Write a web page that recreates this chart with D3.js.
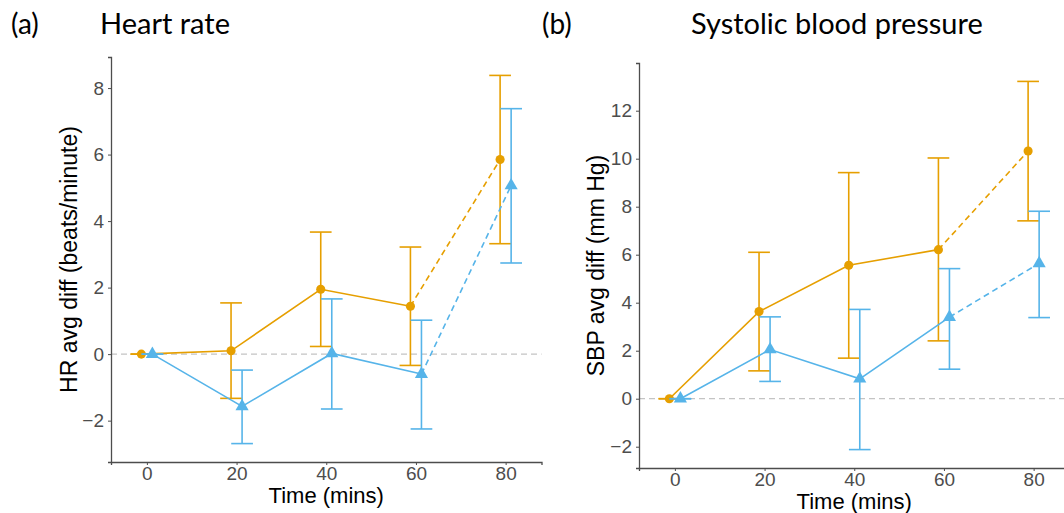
<!DOCTYPE html>
<html>
<head>
<meta charset="utf-8">
<script src="https://cdn.jsdelivr.net/npm/d3@7"></script>
<style>
  body { margin: 0; background: #fff; }
</style>
</head>
<body>
<div id="chart"></div>
<script>
// data
var times = [0, 20, 40, 60, 80];
var xTicks = [0, 20, 40, 60, 80];

// heart rate
var hrOrange   = [0, 0.10, 1.95, 1.44, 5.85];
var hrOrangeLo = [0, -1.33, 0.23, -0.34, 3.32];
var hrOrangeHi = [0, 1.54, 3.67, 3.22, 8.38];
var hrBlue     = [0, -1.57, 0.02, -0.60, 5.07];
var hrBlueLo   = [0, -2.69, -1.65, -2.25, 2.74];
var hrBlueHi   = [0, -0.48, 1.66, 1.02, 7.38];
var hrTicks = [-2, 0, 2, 4, 6, 8];

// systolic blood pressure
var sbpOrange   = [0, 3.63, 5.56, 6.21, 10.32];
var sbpOrangeLo = [0, 1.16, 1.69, 2.41, 7.41];
var sbpOrangeHi = [0, 6.10, 9.42, 10.03, 13.22];
var sbpBlue     = [0, 2.05, 0.83, 3.40, 5.64];
var sbpBlueLo   = [0, 0.72, -2.12, 1.23, 3.38];
var sbpBlueHi   = [0, 3.41, 3.72, 5.42, 7.81];
var sbpTicks = [-2, 0, 2, 4, 6, 8, 10, 12];

var orange = '#E69F00';
var blue = '#56B4E9';
var dodge = 1.23;   // minutes each group is shifted
var capHalf = 2.42; // half error bar width, minutes
var sansFont = '"Liberation Sans", Arial, sans-serif';

var svg = d3.select('#chart')
    .append('svg')
    .attr('width', 1064)
    .attr('height', 513);

function series(vals, lo, hi) {
    return times.map((t, i) => ({t: t, v: vals[i], lo: lo[i], hi: hi[i]}));
}

function drawPanel(opt) {
    var g = svg.append('g');

    var all = opt.groups.flatMap(s => s.data.flatMap(d => [d.lo, d.hi]));
    var ext = d3.extent(all);
    var pad = (ext[1] - ext[0]) * 0.05;

    var xScale = d3.scaleLinear()
        .domain([-8, 88])
        .range([opt.left, opt.left + 430.5]);
    var yScale = d3.scaleLinear()
        .domain([ext[0] - pad, ext[1] + pad])
        .range([opt.bottom, opt.top]);

    // zero reference line
    g.append('line')
        .attr('x1', xScale.range()[0]).attr('x2', xScale.range()[1])
        .attr('y1', yScale(0)).attr('y2', yScale(0))
        .attr('stroke', '#c4c4c4').attr('stroke-width', 1.2)
        .attr('stroke-dasharray', '6,4');

    opt.groups.forEach(function(s) {
        var xs = d => xScale(d.t + s.shift);
        var line = d3.line().x(xs).y(d => yScale(d.v));

        g.append('path').datum(s.data.slice(0, 4))
            .attr('d', line).attr('fill', 'none')
            .attr('stroke', s.color).attr('stroke-width', 1.6);
        g.append('path').datum(s.data.slice(3))
            .attr('d', line).attr('fill', 'none')
            .attr('stroke', s.color).attr('stroke-width', 1.6)
            .attr('stroke-dasharray', '6,4');

        var eb = g.append('g').attr('stroke', s.color).attr('stroke-width', 1.6);
        eb.selectAll('.v').data(s.data).enter().append('line')
            .attr('x1', xs).attr('x2', xs)
            .attr('y1', d => yScale(d.lo)).attr('y2', d => yScale(d.hi));
        eb.selectAll('.hi').data(s.data).enter().append('line')
            .attr('x1', d => xScale(d.t + s.shift - capHalf))
            .attr('x2', d => xScale(d.t + s.shift + capHalf))
            .attr('y1', d => yScale(d.hi)).attr('y2', d => yScale(d.hi));
        eb.selectAll('.lo').data(s.data).enter().append('line')
            .attr('x1', d => xScale(d.t + s.shift - capHalf))
            .attr('x2', d => xScale(d.t + s.shift + capHalf))
            .attr('y1', d => yScale(d.lo)).attr('y2', d => yScale(d.lo));

        g.append('g').selectAll('path').data(s.data).enter().append('path')
            .attr('d', d3.symbol().type(s.shape).size(s.size))
            .attr('transform', d => `translate(${xs(d)},${yScale(d.v)})`)
            .attr('fill', s.color);
    });

    var xAxis = g.append('g')
        .attr('transform', `translate(0,${opt.bottom})`)
        .call(d3.axisBottom(xScale).tickValues(xTicks).tickSize(3).tickPadding(2));
    var yAxis = g.append('g')
        .attr('transform', `translate(${opt.left},0)`)
        .call(d3.axisLeft(yScale).tickValues(opt.yTicks).tickSize(3).tickPadding(4)
            .tickFormat(d => d < 0 ? '\u2212' + Math.abs(d) : d));

    [xAxis, yAxis].forEach(function(a) {
        a.attr('font-family', sansFont).attr('font-size', 19);
        a.select('.domain').attr('stroke', '#4d4d4d').attr('stroke-width', 1.3);
        a.selectAll('.tick line').attr('stroke', '#4d4d4d');
        a.selectAll('.tick text').attr('fill', '#4d4d4d');
    });

    g.append('text')
        .attr('x', xScale(40)).attr('y', opt.bottom + 41)
        .attr('text-anchor', 'middle')
        .attr('font-family', sansFont)
        .attr('font-size', 22)
        .text('Time (mins)');

    g.append('text')
        .attr('transform', `translate(${opt.yLabelX},${(opt.top + opt.bottom) / 2}) rotate(-90)`)
        .attr('text-anchor', 'middle')
        .attr('font-family', sansFont)
        .attr('font-size', 23)
        .text(opt.yLabel);

    g.append('text')
        .attr('x', opt.tagX).attr('y', 34)
        .attr('font-family', 'Lato, "Open Sans", sans-serif')
        .attr('font-size', 28)
        .text(opt.tag);

    g.append('text')
        .attr('x', opt.titleX).attr('y', 34)
        .attr('font-family', 'Lato, "Open Sans", sans-serif')
        .attr('font-size', 29)
        .text(opt.title);
}

drawPanel({
    left: 111, top: 57, bottom: 462,
    yTicks: hrTicks,
    yLabel: 'HR avg diff (beats/minute)', yLabelX: 77,
    tag: '(a)', tagX: 11,
    title: 'Heart rate', titleX: 100,
    groups: [
        {data: series(hrOrange, hrOrangeLo, hrOrangeHi), color: orange, shift: -dodge, shape: d3.symbolCircle, size: 65},
        {data: series(hrBlue, hrBlueLo, hrBlueHi), color: blue, shift: dodge, shape: d3.symbolTriangle, size: 75}
    ]
});

drawPanel({
    left: 639, top: 63, bottom: 468,
    yTicks: sbpTicks,
    yLabel: 'SBP avg diff (mm Hg)', yLabelX: 604,
    tag: '(b)', tagX: 542,
    title: 'Systolic blood pressure', titleX: 691,
    groups: [
        {data: series(sbpOrange, sbpOrangeLo, sbpOrangeHi), color: orange, shift: -dodge, shape: d3.symbolCircle, size: 65},
        {data: series(sbpBlue, sbpBlueLo, sbpBlueHi), color: blue, shift: dodge, shape: d3.symbolTriangle, size: 75}
    ]
});
</script>
</body>
</html>
